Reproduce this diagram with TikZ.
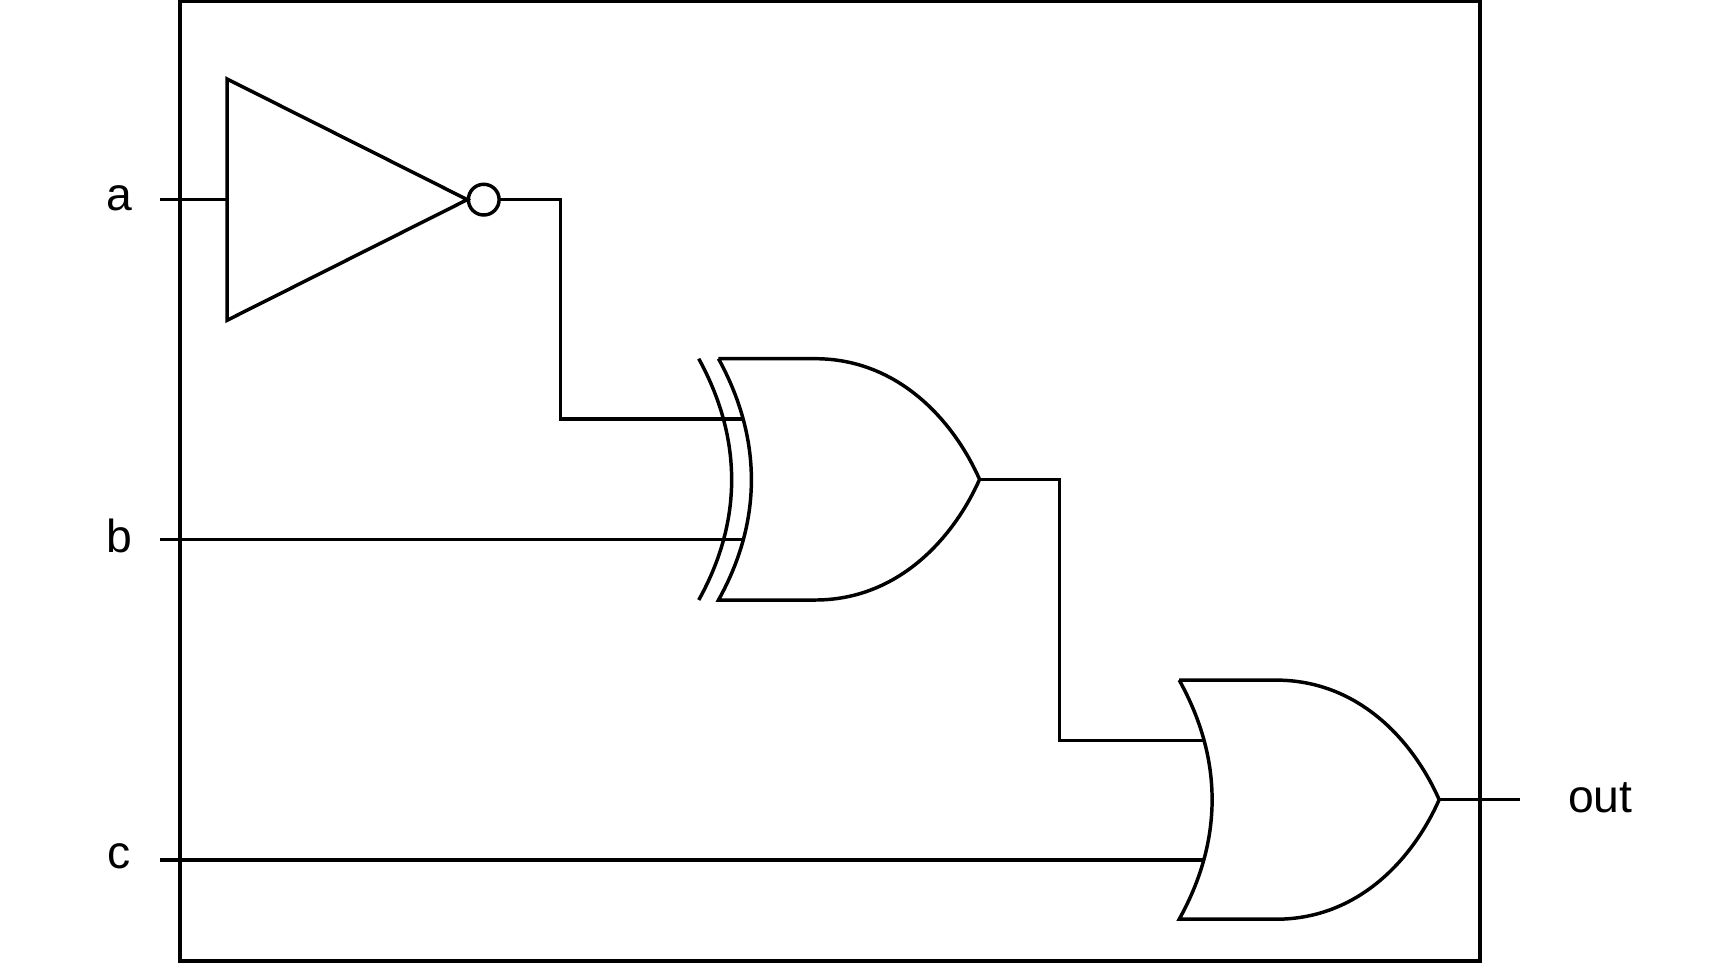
\documentclass[tikz,border=0pt]{standalone}
\usepackage{fontspec}
\setmainfont{Liberation Sans}
\begin{document}
\begin{tikzpicture}[x=0.01cm,y=-0.01cm,line width=0.9pt,line join=miter,
  lbl/.style={font=\fontsize{12}{14}\selectfont,inner sep=0pt}]
\useasboundingbox (0,0) rectangle (1568,879);
\draw (164,1) rectangle (1349,876);
\node[lbl] (la) at (109,181) {a};
\node[lbl] (lb) at (109,489) {b};
\node[lbl] (lc) at (109,781) {c};
\node[lbl] (lo) at (1459,727) {out};
\coordinate (ia) at (146,182);
\coordinate (ib) at (146,492);
\coordinate (ic) at (146,784);
\coordinate (oo) at (1386,729);
% NOT
\draw (207,72) -- (207,292) -- (426,182) -- cycle;
\draw (441,182) circle[radius=0.14cm];
\coordinate (notin) at (207,182);
\coordinate (notout) at (455,182);
% XOR
\draw (637,327) .. controls (677,400) and (677,475) .. (637,547);
\draw (655,327) -- (743,327) .. controls (820,327) and (870,385) .. (893,437)
      .. controls (870,489) and (820,547) .. (743,547) -- (655,547)
      .. controls (695,475) and (695,400) .. (655,327);
\coordinate (x1) at (678,382);
\coordinate (x2) at (678,492);
\coordinate (xo) at (893,437);
% OR
\draw (1075,620) -- (1163,620) .. controls (1240,620) and (1289,677) .. (1312,729)
      .. controls (1289,781) and (1240,838) .. (1163,838) -- (1075,838)
      .. controls (1115,766) and (1115,692) .. (1075,620);
\coordinate (o1) at (1098,675);
\coordinate (o2) at (1098,784);
\coordinate (oout) at (1312,729);
% wires
\draw (ia) -- (notin);
\draw (notout) -- (511,182) -- (511,382) -- (x1);
\draw (ib) -- (x2);
\draw (xo) -- (966,437) -- (966,675) -- (o1);
\draw (ic) -- (o2);
\draw (oout) -- (oo);
\end{tikzpicture}
\end{document}
